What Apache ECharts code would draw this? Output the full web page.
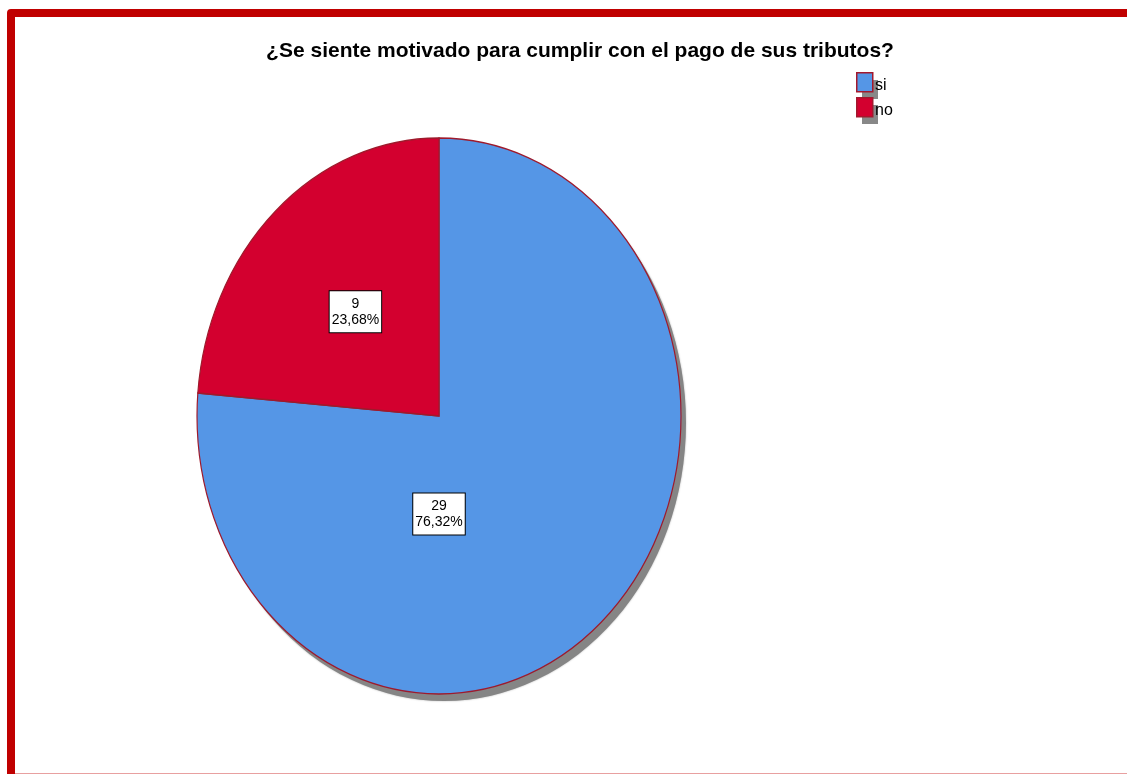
<!DOCTYPE html>
<html>
<head>
<meta charset="utf-8">
<script src="https://cdn.jsdelivr.net/npm/echarts@6/dist/echarts.min.js"></script>
<style>
html,body{margin:0;padding:0;background:#fff;}
#chart{width:1127px;height:774px;}
</style>
</head>
<body>
<div id="chart"></div>
<script>
// ---- data ----
var titleText = '¿Se siente motivado para cumplir con el pago de sus tributos?';
var categories = ['si', 'no'];
var counts = [29, 9];
var colors = ['#5596e6', '#d3002f'];

// ---- layout (styling only) ----
var layout = {
  cx: 439, cy: 416, rx: 242, ry: 278,
  shadowDx: 5, shadowDy: 7,
  labelRule: [{angleDeg: 180, dist: 0.3525}, {mid: true, dist: 0.51}]
};

var total = counts.reduce(function (a, b) { return a + b; }, 0);
function pctText(v) { return (v / total * 100).toFixed(2).replace('.', ',') + '%'; }

var chart = echarts.init(document.getElementById('chart'), null, {renderer: 'canvas'});

var legendGraphics = [];
categories.forEach(function (c, i) {
  var y = 72 + i * 25;
  legendGraphics.push({
    type: 'rect', left: 862, top: y + 8, z: 10,
    shape: {width: 16, height: 19}, style: {fill: '#888888'}
  });
  legendGraphics.push({
    type: 'rect', left: 856, top: y, z: 11,
    shape: {width: 16, height: 19}, style: {fill: colors[i], stroke: '#a3182d', lineWidth: 1.5}
  });
  legendGraphics.push({
    type: 'text', left: 875, top: y + 6, z: 12,
    style: {text: c, font: '16px "Liberation Sans", Arial, sans-serif', fill: '#000'}
  });
});

var option = {
  backgroundColor: '#ffffff',
  animation: false,
  title: {
    text: titleText, left: 575, top: 36, textAlign: 'center',
    textStyle: {fontFamily: '"Liberation Sans", Arial, sans-serif', fontWeight: 'bold', fontSize: 21, color: '#000'}
  },
  graphic: [
    {type: 'polyline', z: 20, shape: {points: [[11, 780], [11, 13], [1140, 13]]},
     style: {stroke: '#c00000', lineWidth: 8, lineJoin: 'round', fill: null}},
    {type: 'line', z: 19, shape: {x1: 15, y1: 773.5, x2: 1127, y2: 773.5},
     style: {stroke: '#e8a0a0', lineWidth: 1}}
  ].concat(legendGraphics),
  series: [{
    type: 'custom',
    coordinateSystem: 'none',
    data: counts.map(function (v, i) { return {name: categories[i], value: v}; }),
    renderItem: function (params, api) {
      var i = params.dataIndex;
      var v = api.value(0);
      var before = 0;
      for (var k = 0; k < i; k++) before += counts[k];
      var a0 = -Math.PI / 2 + before / total * Math.PI * 2;
      var a1 = -Math.PI / 2 + (before + v) / total * Math.PI * 2;
      var s = layout.ry / layout.rx;
      var rule = layout.labelRule[i];
      var am = rule.mid ? (a0 + a1) / 2 : rule.angleDeg * Math.PI / 180 - Math.PI / 2;
      var lx = layout.cx + Math.cos(am) * layout.rx * rule.dist;
      var ly = layout.cy + Math.sin(am) * layout.rx * rule.dist * s;
      return {
        type: 'group',
        children: [
          {type: 'group', x: layout.cx + layout.shadowDx, y: layout.cy + layout.shadowDy, scaleY: s, z2: 0,
           children: [{type: 'sector', z2: 0,
             shape: {cx: 0, cy: 0, r: layout.rx, startAngle: a0, endAngle: a1, clockwise: true},
             style: {fill: '#858585', shadowBlur: 2, shadowColor: 'rgba(0,0,0,0.3)'}}]},
          {type: 'group', x: layout.cx, y: layout.cy, scaleY: s, z2: 5,
           children: [{type: 'sector', z2: 5,
             shape: {cx: 0, cy: 0, r: layout.rx, startAngle: a0, endAngle: a1, clockwise: true},
             style: {fill: colors[i], stroke: '#9e1a2c', lineWidth: 1.2, strokeNoScale: true}}]},
          {type: 'text', x: lx, y: ly, z2: 10,
           style: {text: v + '\n' + pctText(v), align: 'center', verticalAlign: 'middle',
             font: '14px "Liberation Sans", Arial, sans-serif', fill: '#000', lineHeight: 16,
             backgroundColor: '#fff', borderColor: '#000', borderWidth: 1, padding: [5, 2, 4, 2]}}
        ]
      };
    }
  }]
};
chart.setOption(option);
</script>
</body>
</html>
